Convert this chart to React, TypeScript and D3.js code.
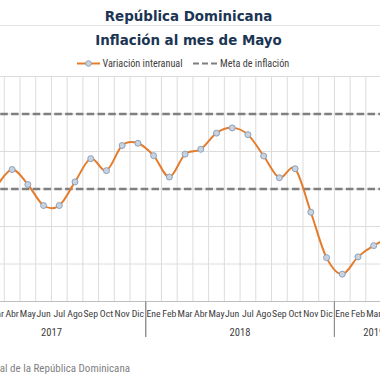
import React from "react";
import * as d3 from "d3";

const years = ["2017", "2018", "2019"];
const monthNames = ["Ene", "Feb", "Mar", "Abr", "May", "Jun", "Jul", "Ago", "Sep", "Oct", "Nov", "Dic"];
const monthsPerYear = [12, 12, 5];
const inflation = [
  2.0, 2.5, 3.07, 3.52, 3.12, 2.56, 2.56, 3.19, 3.81, 3.49, 4.16, 4.22,
  3.89, 3.32, 3.93, 4.06, 4.49, 4.63, 4.45, 3.88, 3.3, 3.54, 2.38, 1.17,
  0.73, 1.19, 1.49, 1.66, 1.4,
];
const targetBand = [3, 5];
const yTicks = [0, 1, 2, 3, 4, 5, 6];
const titleLines = ["República Dominicana", "Inflación al mes de Mayo"];
const legendLabels = ["Variación interanual", "Meta de inflación"];
const sourceText = "Fuente: Banco Central de la República Dominicana";

const W = 380;
const H = 380;
const plotLeft = -42.9;
const plotRight = 413;
const plotTop = 76.5;
const plotBottom = 301.5;

const ORANGE = "#E47C2D";
const GRID = "#DCDCDC";
const DASH = "#7F7F7F";
const NAVY = "#1B3553";
const narrow = "'Liberation Sans Narrow', 'Arial Narrow', 'Roboto Condensed', sans-serif";

export default function App() {
  const cats: { key: string; label: string; year: string }[] = [];
  years.forEach((y, yi) => {
    for (let m = 0; m < monthsPerYear[yi]; m++) cats.push({ key: `${y}-${m}`, label: monthNames[m], year: y });
  });
  const x = d3.scaleBand<string>().domain(cats.map((c) => c.key)).range([plotLeft, plotRight]).padding(0);
  const yS = d3.scaleLinear().domain([0, 6]).range([plotBottom, plotTop]);
  const bw = x.bandwidth();
  const cx = (i: number) => (x(cats[i].key) as number) + bw / 2;

  const line = d3
    .line<number>()
    .x((_, i) => cx(i))
    .y((d) => yS(d))
    .curve(d3.curveCardinal.tension(0));

  const boundaries = d3.range(cats.length + 1).map((i) => plotLeft + i * bw);
  const yearSpans: { year: string; start: number; end: number }[] = [];
  let idx = 0;
  years.forEach((y, yi) => {
    const start = plotLeft + idx * bw;
    idx += monthsPerYear[yi];
    yearSpans.push({ year: y, start, end: plotLeft + idx * bw });
  });

  return (
    <svg
      width={W}
      height={H}
      style={{ position: "absolute", left: 0, top: 0, background: "#fff" }}
    >
      <rect x={0} y={0} width={W} height={H} fill="#fff" />
      <line x1={0} x2={W} y1={25.5} y2={25.5} stroke="#E4E4E4" strokeWidth={1} />
      {titleLines.map((t, i) => (
        <text
          key={t}
          x={188.5}
          y={21 + i * 23.5}
          textAnchor="middle"
          fontFamily="'DejaVu Sans', sans-serif"
          fontWeight="bold"
          fontSize={13.4}
          fill={NAVY}
        >
          {t}
        </text>
      ))}

      {/* legend */}
      <g>
        <line x1={77} x2={100} y1={63.5} y2={63.5} stroke={ORANGE} strokeWidth={2} />
        <circle cx={88.5} cy={63.5} r={2.8} fill="#C9D3E0" stroke="#8EA1BA" strokeWidth={1} />
        <text x={102.5} y={67} fontFamily={narrow} fontSize={10.2} fill="#404040">
          {legendLabels[0]}
        </text>
        <line x1={193} x2={219} y1={63.5} y2={63.5} stroke={DASH} strokeWidth={2.2} strokeDasharray="6 3" />
        <text x={220} y={67} fontFamily={narrow} fontSize={10.2} fill="#404040">
          {legendLabels[1]}
        </text>
      </g>

      {/* gridlines */}
      {boundaries.map((b, i) => (
        <line key={"v" + i} x1={b} x2={b} y1={plotTop} y2={plotBottom} stroke={GRID} strokeWidth={1} />
      ))}
      {yTicks.map((t) => (
        <line key={"h" + t} x1={plotLeft} x2={plotRight} y1={yS(t)} y2={yS(t)} stroke={GRID} strokeWidth={1} />
      ))}
      <line x1={plotLeft} x2={plotRight} y1={plotBottom} y2={plotBottom} stroke="#BFBFBF" strokeWidth={1} />

      {/* target band */}
      {targetBand.map((v) => (
        <line
          key={"t" + v}
          x1={plotLeft}
          x2={plotRight}
          y1={yS(v)}
          y2={yS(v)}
          stroke={DASH}
          strokeWidth={2.5}
          strokeDasharray="7.5 3.3"
        />
      ))}

      {/* series */}
      <path d={line(inflation) || ""} fill="none" stroke={ORANGE} strokeWidth={2} />
      {inflation.map((v, i) => (
        <circle key={"p" + i} cx={cx(i)} cy={yS(v)} r={3} fill="#C9D3E0" stroke="#8EA1BA" strokeWidth={1} />
      ))}

      {/* x axis labels */}
      {cats.map((c, i) => (
        <text
          key={"m" + i}
          x={cx(i)}
          y={317}
          textAnchor="middle"
          fontFamily={narrow}
          fontSize={9.8}
          fill="#404040"
        >
          {c.label}
        </text>
      ))}
      {yearSpans.map((s) => (
        <g key={s.year}>
          <line x1={s.start} x2={s.start} y1={plotBottom} y2={337} stroke="#8C8C8C" strokeWidth={1} />
          <line x1={s.end} x2={s.end} y1={plotBottom} y2={337} stroke="#8C8C8C" strokeWidth={1} />
          <text
            x={(s.start + s.end) / 2}
            y={335.5}
            textAnchor="middle"
            fontFamily={narrow}
            fontSize={10.6}
            fill="#404040"
          >
            {s.year}
          </text>
        </g>
      ))}

      <text x={130} y={371.5} textAnchor="end" fontFamily={narrow} fontSize={11} fill="#7F7F7F">
        {sourceText}
      </text>
    </svg>
  );
}
